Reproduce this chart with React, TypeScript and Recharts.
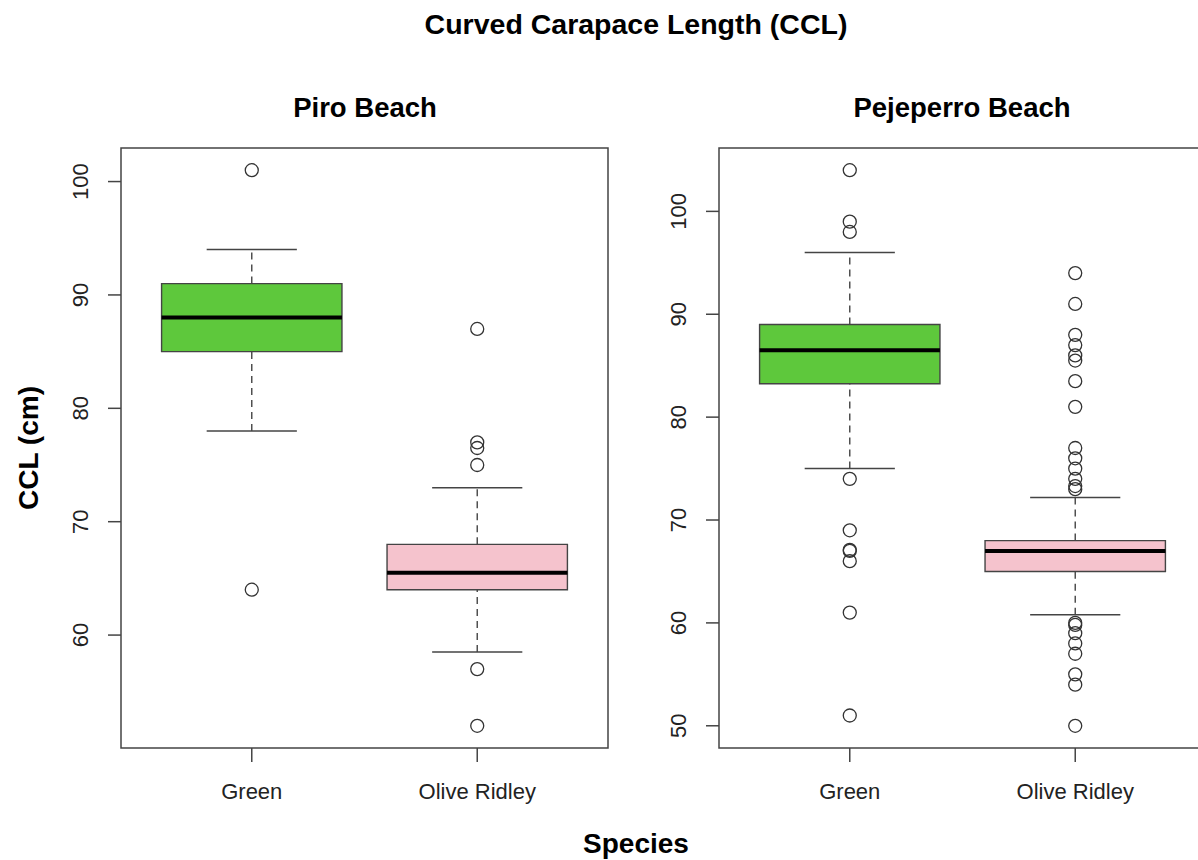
import React from 'react';
import {
  ComposedChart,
  XAxis,
  YAxis,
  Scatter,
  ReferenceArea,
  ReferenceLine,
} from 'recharts';

// Species shown on the x axis of both panels
const speciesLabels = ['Green', 'Olive Ridley'];

// Five-number boxes: [lower whisker, Q1, median, Q3, upper whisker] in cm
const piroGreenBox = [78, 85, 88, 91, 94];
const piroGreenOutliers = [101, 64];
const piroOliveBox = [58.5, 64, 65.5, 68, 73];
const piroOliveOutliers = [87, 77, 76.5, 75, 57, 52];

const pejeGreenBox = [75, 83.25, 86.5, 89, 96];
const pejeGreenOutliers = [104, 99, 98, 74, 69, 67.1, 67, 66, 61, 51];
const pejeOliveBox = [60.8, 65, 67, 68, 72.2];
const pejeOliveOutliers = [
  94, 91, 88, 87, 86, 85.5, 83.5, 81, 77, 76, 75, 74, 73.3, 73,
  60, 59.8, 59, 58, 57, 55, 54, 50,
];

const piroTicks = [60, 70, 80, 90, 100];
const pejeTicks = [50, 60, 70, 80, 90, 100];

const speciesFills = ['#5ec83c', '#f5c3cd'];

const FONT = '"Liberation Sans", Arial, Helvetica, sans-serif';
const INK = '#444';

type Group = { box: number[]; outliers: number[]; fill: string };

// R-style axis range: data extent padded by 4% on both sides
function paddedDomain(groups: Group[]): [number, number] {
  const all = groups.flatMap((g) => [...g.box, ...g.outliers]);
  const lo = Math.min(...all);
  const hi = Math.max(...all);
  const pad = (hi - lo) * 0.04;
  return [lo - pad, hi + pad];
}

const X_DOMAIN: [number, number] = [0.42, 2.58];
const HALF_BOX = 0.4;
const HALF_CAP = 0.2;

function Panel({ groups, ticks, left }: { groups: Group[]; ticks: number[]; left: number }) {
  const yDomain = paddedDomain(groups);
  const yTick = (p: any) => (
    <text
      x={88}
      y={p.y}
      transform={`rotate(-90 88 ${p.y})`}
      textAnchor="middle"
      fontFamily={FONT}
      fontSize={22}
      fill="#222"
    >
      {p.payload.value}
    </text>
  );
  const xTick = (p: any) => (
    <text x={p.x} y={799} textAnchor="middle" fontFamily={FONT} fontSize={22} fill="#222">
      {speciesLabels[Math.round(p.payload.value) - 1]}
    </text>
  );

  return (
    <div style={{ position: 'absolute', left, top: 0 }}>
      <ComposedChart
        width={620}
        height={860}
        margin={{ top: 148, left: 61, right: 12, bottom: 62 }}
      >
        <XAxis
          type="number"
          dataKey="x"
          domain={X_DOMAIN}
          ticks={[1, 2]}
          allowDataOverflow
          axisLine={false}
          tickSize={14}
          tickLine={{ stroke: INK, strokeWidth: 1.5 }}
          tick={xTick}
          height={50}
        />
        <YAxis
          type="number"
          dataKey="y"
          domain={yDomain}
          ticks={ticks}
          allowDataOverflow
          axisLine={false}
          tickSize={13}
          tickLine={{ stroke: INK, strokeWidth: 1.5 }}
          tick={yTick}
          width={60}
        />

        {groups.map((g, i) => {
          const c = i + 1;
          const [lo, q1, med, q3, hi] = g.box;
          return (
            <React.Fragment key={`g${i}`}>
              <ReferenceLine
                segment={[{ x: c, y: q3 }, { x: c, y: hi }]}
                stroke={INK}
                strokeWidth={1.4}
                strokeDasharray="7 5"
              />
              <ReferenceLine
                segment={[{ x: c, y: lo }, { x: c, y: q1 }]}
                stroke={INK}
                strokeWidth={1.4}
                strokeDasharray="7 5"
              />
              <ReferenceLine
                segment={[{ x: c - HALF_CAP, y: hi }, { x: c + HALF_CAP, y: hi }]}
                stroke={INK}
                strokeWidth={1.5}
              />
              <ReferenceLine
                segment={[{ x: c - HALF_CAP, y: lo }, { x: c + HALF_CAP, y: lo }]}
                stroke={INK}
                strokeWidth={1.5}
              />
              <ReferenceArea
                x1={c - HALF_BOX}
                x2={c + HALF_BOX}
                y1={q1}
                y2={q3}
                fill={g.fill}
                fillOpacity={1}
                stroke={INK}
                strokeWidth={1.4}
              />
              <ReferenceLine
                segment={[{ x: c - HALF_BOX, y: med }, { x: c + HALF_BOX, y: med }]}
                stroke="#000"
                strokeWidth={4}
              />
            </React.Fragment>
          );
        })}

        {groups.map((g, i) => (
          <Scatter
            key={`o${i}`}
            data={g.outliers.map((v) => ({ x: i + 1, y: v }))}
            isAnimationActive={false}
            shape={(p: any) => (
              <circle cx={p.cx} cy={p.cy} r={6.5} fill="none" stroke="#333" strokeWidth={1.3} />
            )}
          />
        ))}

        {/* plot frame */}
        <ReferenceArea
          x1={X_DOMAIN[0]}
          x2={X_DOMAIN[1]}
          y1={yDomain[0]}
          y2={yDomain[1]}
          fill="none"
          stroke={INK}
          strokeWidth={1.5}
        />
      </ComposedChart>
    </div>
  );
}

const piroGroups: Group[] = [
  { box: piroGreenBox, outliers: piroGreenOutliers, fill: speciesFills[0] },
  { box: piroOliveBox, outliers: piroOliveOutliers, fill: speciesFills[1] },
];
const pejeGroups: Group[] = [
  { box: pejeGreenBox, outliers: pejeGreenOutliers, fill: speciesFills[0] },
  { box: pejeOliveBox, outliers: pejeOliveOutliers, fill: speciesFills[1] },
];

export default function App() {
  return (
    <div
      style={{
        position: 'absolute',
        left: 0,
        top: 0,
        width: 1198,
        height: 860,
        overflow: 'hidden',
        background: '#fff',
      }}
    >
      <Panel groups={piroGroups} ticks={piroTicks} left={0} />
      <Panel groups={pejeGroups} ticks={pejeTicks} left={598} />
      <svg
        width={1198}
        height={860}
        style={{ position: 'absolute', left: 0, top: 0, pointerEvents: 'none' }}
        fontFamily={FONT}
        fontWeight="bold"
        fill="#000"
      >
        <text x={636} y={34} textAnchor="middle" fontSize={28.5}>
          Curved Carapace Length (CCL)
        </text>
        <text x={365} y={117} textAnchor="middle" fontSize={27.5}>
          Piro Beach
        </text>
        <text x={962} y={117} textAnchor="middle" fontSize={27.5}>
          Pejeperro Beach
        </text>
        <text x={636} y={853} textAnchor="middle" fontSize={28}>
          Species
        </text>
        <text x={38} y={448} transform="rotate(-90 38 448)" textAnchor="middle" fontSize={28}>
          CCL (cm)
        </text>
      </svg>
    </div>
  );
}
